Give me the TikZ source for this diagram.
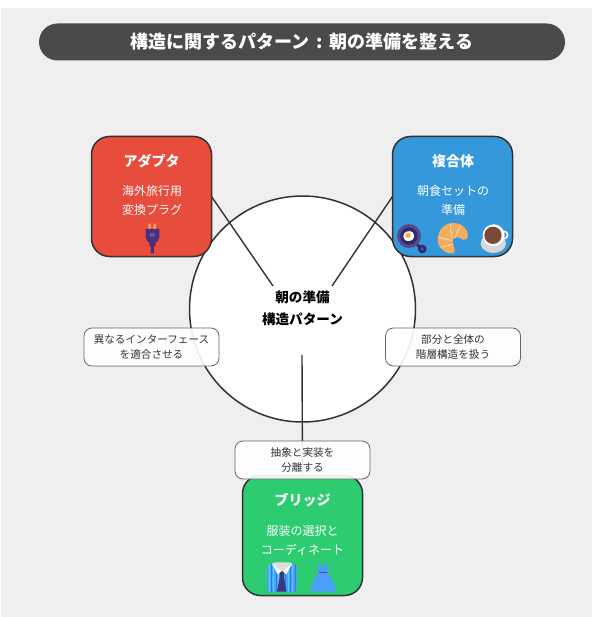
\documentclass[tikz,border=0pt]{standalone}
\usepackage{fontspec}
\setmainfont{Noto Sans CJK JP}
\definecolor{bggray}{HTML}{EFEFEF}
\definecolor{titlebar}{HTML}{4A4A4A}
\definecolor{strokedark}{HTML}{333333}
\definecolor{redbox}{HTML}{E74C3C}
\definecolor{bluebox}{HTML}{3498DB}
\definecolor{greenbox}{HTML}{2ECC71}
\definecolor{labelstroke}{HTML}{666666}
\definecolor{plugpurple}{HTML}{4B2E7E}
\definecolor{pluglight}{HTML}{9A6FD0}
\definecolor{plugorange}{HTML}{F2A04E}
\definecolor{panouter}{HTML}{574A8C}
\definecolor{paninner}{HTML}{2F2A6C}
\definecolor{yolk}{HTML}{FFB02E}
\definecolor{crois}{HTML}{F4AD5E}
\definecolor{croisline}{HTML}{FBE3C4}
\definecolor{saucer}{HTML}{D8D8D8}
\definecolor{coffee}{HTML}{7A4A38}
\definecolor{shirtblue}{HTML}{42A5F5}
\definecolor{stripe}{HTML}{4FD0F7}
\definecolor{stripeb}{HTML}{4A6CF0}
\definecolor{tienavy}{HTML}{3B3A78}
\definecolor{collar}{HTML}{DDDDDD}
\definecolor{dressblue}{HTML}{4A9EF5}
\definecolor{belt}{HTML}{6A3FA0}
\tikzset{
  box/.style={draw=strokedark,line width=1.5pt,rounded corners=18pt,minimum width=120pt,minimum height=120pt,inner sep=0pt,outer sep=0pt},
  link/.style={draw=strokedark,line width=1.4pt},
  boxtitle/.style={text=white,font=\fontsize{14}{16}\selectfont\bfseries,inner sep=0pt},
  boxbody/.style={text=white,font=\fontsize{12}{19}\selectfont,align=center,inner sep=0pt},
  centertext/.style={text=black,font=\fontsize{13.6}{22}\selectfont\bfseries,align=center,inner sep=0pt},
  tag/.style={draw=labelstroke,line width=0.8pt,fill=white,fill opacity=0.9,text opacity=1,text=strokedark,rounded corners=8pt,minimum width=135pt,minimum height=38pt,inner sep=0pt,align=center,font=\fontsize{10.6}{15}\selectfont},
}
\begin{document}
\begin{tikzpicture}[x=1pt,y=-1pt]
\path[use as bounding box] (0,0) rectangle (592,617);
\fill[bggray] (1,8) rectangle (592,617);
\node[fill=titlebar,rounded corners=18.5pt,minimum width=526pt,minimum height=37pt,inner sep=0pt,outer sep=0pt,text=white,font=\fontsize{18}{20}\selectfont\bfseries] (title) at (302,42) {構造に関するパターン\hspace{7pt}:\hspace{7pt}朝の準備を整える};
\node[circle,draw=strokedark,line width=1.5pt,fill=white,minimum size=226pt,inner sep=0pt,outer sep=0pt] (hub) at (302.5,309) {};
\coordinate (ca) at (273,286);
\coordinate (cc) at (332,286);
\coordinate (cb) at (302,355);
\node[box,fill=redbox] (adapter) at (151.5,196.5) {};
\node[box,fill=bluebox] (composite) at (452.5,196.5) {};
\node[box,fill=greenbox] (bridge) at (302.5,535.5) {};
\draw[link] (adapter.east) -- (ca);
\draw[link] (composite.west) -- (cc);
\draw[link] (cb) -- (bridge.north);
\node[centertext] (hubtext) at (302.5,308) {朝の準備\\構造パターン};
\node[boxtitle] (adaptertitle) at (151.5,161) {アダプタ};
\node[boxbody] (adapterbody) at (152,200.5) {海外旅行用\\変換プラグ};
\node[boxtitle] (compositetitle) at (453,161) {複合体};
\node[boxbody] (compositebody) at (453,200.5) {朝食セットの\\準備};
\node[boxtitle] (bridgetitle) at (302.5,500) {ブリッジ};
\node[boxbody] (bridgebody) at (302.5,540) {服装の選択と\\コーディネート};
% plug
\begin{scope}[shift={(80,125)},x=0.3333pt,y=-0.3333pt]
\fill[plugorange] (205,296) rectangle (213,314) (220,296) rectangle (228,314);
\fill[plugpurple] (197,312) -- (238,312) -- (238,336) .. controls (238,346) and (230,350) .. (226,354) -- (226,364) -- (222,364) -- (222,385) -- (212,385) -- (212,364) -- (208,364) -- (208,354) .. controls (204,350) and (197,346) .. (197,336) -- cycle;
\fill[pluglight] (210,325) rectangle (224,328) (210,331) rectangle (224,334);
\end{scope}
% pan, croissant, coffee
\begin{scope}[shift={(380,125)},x=0.3333pt,y=-0.3333pt]
\draw[paninner,line width=3pt] (106,354) -- (126,372);
\fill[paninner] (127,372) circle[radius=13];
\fill[panouter] (127,372) circle[radius=5.5];
\fill[panouter] (87,333) circle[radius=36];
\fill[paninner] (87,333) circle[radius=26];
\fill[white] (70,334) .. controls (68,320) and (90,314) .. (98,322) .. controls (106,332) and (102,347) .. (88,348) .. controls (78,349) and (71,344) .. (70,334) -- cycle;
\fill[yolk] (84,331) circle[radius=8];
\fill[crois] (218,385) .. controls (195,387) and (173,368) .. (173,345) .. controls (173,315) and (195,294) .. (220,294) .. controls (245,294) and (265,312) .. (264,333) .. controls (263,345) and (250,347) .. (245,342) .. controls (238,335) and (224,336) .. (219,344) .. controls (215,352) and (224,368) .. (224,376) .. controls (224,382) and (221,385) .. (218,385) -- cycle;
\draw[croisline,line width=0.7pt] (210,296) -- (216,340) (240,303) -- (226,337) (176,337) -- (214,346) (183,367) -- (219,358);
\fill[saucer] (340,355) ellipse[x radius=38,y radius=29];
\draw[white,line width=1.6pt] (372,330) circle[radius=11];
\fill[white] (341,331) circle[radius=33];
\fill[coffee] (339,331) circle[radius=26];
\end{scope}
% shirt and dress
\begin{scope}[shift={(225,435)},x=0.3333pt,y=-0.3333pt]
\begin{scope}
\clip[rounded corners=4pt] (126,386) rectangle (216,472);
\fill[shirtblue] (126,386) rectangle (216,472);
\foreach \sx in {131,145,159,174,188,202}{\fill[stripe] (\sx,386) rectangle +(3,90);}
\foreach \sx in {138,152,181,195,209}{\fill[stripeb] (\sx,386) rectangle +(2.5,90);}
\end{scope}
\fill[tienavy] (163,408) -- (179,408) -- (176,422) -- (184,470) -- (156,470) -- (165,422) -- cycle;
\fill[collar] (141,386) -- (150,382) -- (192,382) -- (201,386) -- (172,408) -- (170,408) -- cycle;
\fill[white] (141,386) -- (170,408) -- (158,418) -- cycle (201,386) -- (172,408) -- (184,418) -- cycle;
\fill[dressblue] (282,383) -- (286,383) -- (288,394) -- (301,394) -- (303,383) -- (307,383) -- (310,398) -- (307,412) .. controls (316,426) and (334,452) .. (334,468) .. controls (330,472) and (326,472) .. (321,469) .. controls (316,472) and (312,472) .. (308,469) .. controls (303,472) and (299,472) .. (295,469) .. controls (290,472) and (286,472) .. (282,469) .. controls (277,472) and (273,472) .. (269,469) .. controls (264,472) and (260,472) .. (256,468) .. controls (256,452) and (273,426) .. (281,412) -- (278,398) -- cycle;
\fill[belt] (281,410.5) rectangle (307,413.5);
\end{scope}
\node[tag] (tagadapter) at (151.5,347) {異なるインターフェース\\を適合させる};
\node[tag] (tagcomposite) at (453,347) {部分と全体の\\階層構造を扱う};
\node[tag] (tagbridge) at (302.5,460) {抽象と実装を\\分離する};
\end{tikzpicture}
\end{document}
